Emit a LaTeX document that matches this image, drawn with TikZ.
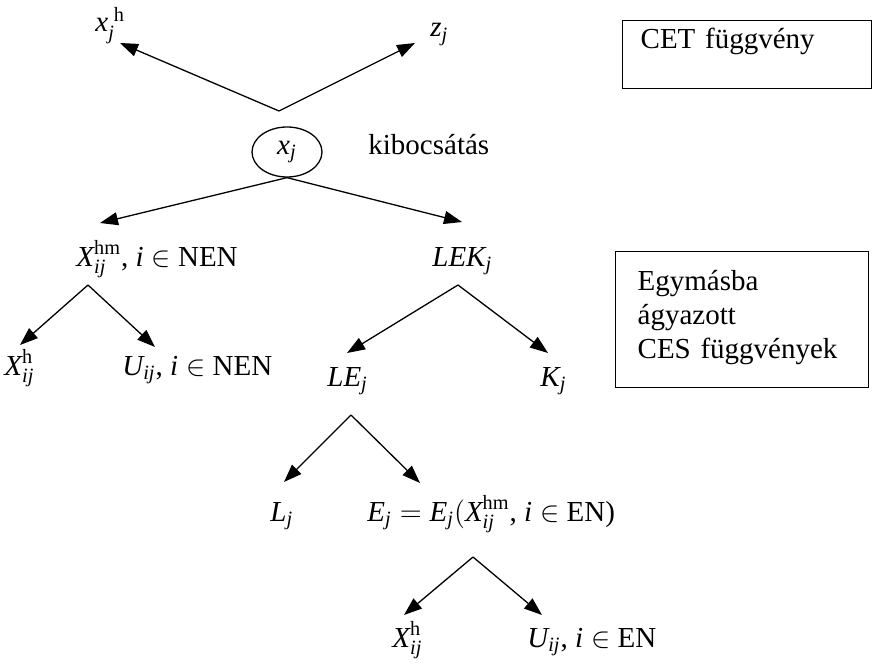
\documentclass[tikz,border=0pt]{standalone}
\usepackage{amsmath}
\usepackage{fontspec}
\setmainfont{Liberation Serif}
\usetikzlibrary{arrows.meta,shapes.geometric}

\newcommand{\iv}[1]{\textit{#1}}

\begin{document}
\begin{tikzpicture}[x=0.5pt, y=-0.5pt,
    lbl/.style={inner sep=0pt, anchor=base west, font=\fontsize{14.5}{17}\selectfont},
    arr/.style={-{Triangle[length=9pt,width=6.5pt]}, line width=0.65pt},
    infobox/.style={draw, line width=0.65pt, anchor=north west, align=left,
        font=\fontsize{14.5}{17}\selectfont}
]
    \useasboundingbox (0,0) rectangle (872,668);
    % labels
    \node[lbl] (xh) at (95,32) {$\iv{x}_{\iv{j}}^{\;\text{h}}$};
    \node[lbl] (zj) at (430,37) {$\iv{z}_{\iv{j}}$};
    \node[lbl, anchor=center, draw, ellipse, line width=0.65pt, minimum width=35pt, minimum height=25pt] (xj) at (287,152) {$\iv{x}_{\iv{j}}$};
    \node[lbl] (kib) at (368,155) {kibocsátás};
    \node[lbl] (xhm) at (76,266) {$\iv{X}_{\iv{ij}}^{\text{hm}}$, $\iv{i}\in$\ NEN};
    \node[lbl] (lek) at (432,266) {$\iv{LEK}_{\iv{j}}$};
    \node[lbl] (xh1) at (4,375) {$\iv{X}_{\iv{ij}}^{\text{h}}$};
    \node[lbl] (unen) at (122,375) {$\iv{U}_{\iv{ij}}$, $\iv{i}\in$\ NEN};
    \node[lbl] (lej) at (327,386) {$\iv{LE}_{\iv{j}}$};
    \node[lbl] (kj) at (540,386) {$\iv{K}_{\iv{j}}$};
    \node[lbl] (lj) at (270,521) {$\iv{L}_{\iv{j}}$};
    \node[lbl] (ej) at (367,521) {$\iv{E}_{\iv{j}} = \iv{E}_{\iv{j}}(\iv{X}_{\iv{ij}}^{\text{hm}}$, $\iv{i}\in$\ EN)};
    \node[lbl] (xh2) at (392,647) {$\iv{X}_{\iv{ij}}^{\text{h}}$};
    \node[lbl] (uen) at (527,647) {$\iv{U}_{\iv{ij}}$, $\iv{i}\in$\ EN};
    % side boxes
    \node[infobox, minimum width=124.5pt, text width=106.5pt, inner xsep=9pt,
        inner ysep=4pt, text height=10pt, text depth=16pt] (cet) at (622,20) {CET függvény};
    \node[infobox, minimum width=126.5pt, text width=104.5pt, inner xsep=11pt,
        inner ysep=7.5pt, text height=12pt, text depth=41pt] (ces) at (615,251) {Egymásba\\ ágyazott\\ CES függvények};
    % branch points and arrow ends
    \coordinate (a0) at (279,111);
    \coordinate (a2) at (88,285);
    \coordinate (a3) at (458,285);
    \coordinate (a4) at (351,415);
    \coordinate (a5) at (473,557);
    \coordinate (t1) at (120,43);
    \coordinate (t2) at (415,43);
    \coordinate (t3) at (100,223);
    \coordinate (t4) at (462,222);
    \coordinate (t5) at (20,345);
    \coordinate (t6) at (155,347);
    \coordinate (t7) at (347,353);
    \coordinate (t8) at (548,353);
    \coordinate (t9) at (284,482);
    \coordinate (t10) at (420,483);
    \coordinate (t11) at (404,615);
    \coordinate (t12) at (542,615);
    % arrows
    \foreach \a/\b in {a0/t1, a0/t2, xj.south/t3, xj.south/t4, a2/t5, a2/t6,
        a3/t7, a3/t8, a4/t9, a4/t10, a5/t11, a5/t12} {
        \draw[arr] (\a) -- (\b);
    }
\end{tikzpicture}
\end{document}
